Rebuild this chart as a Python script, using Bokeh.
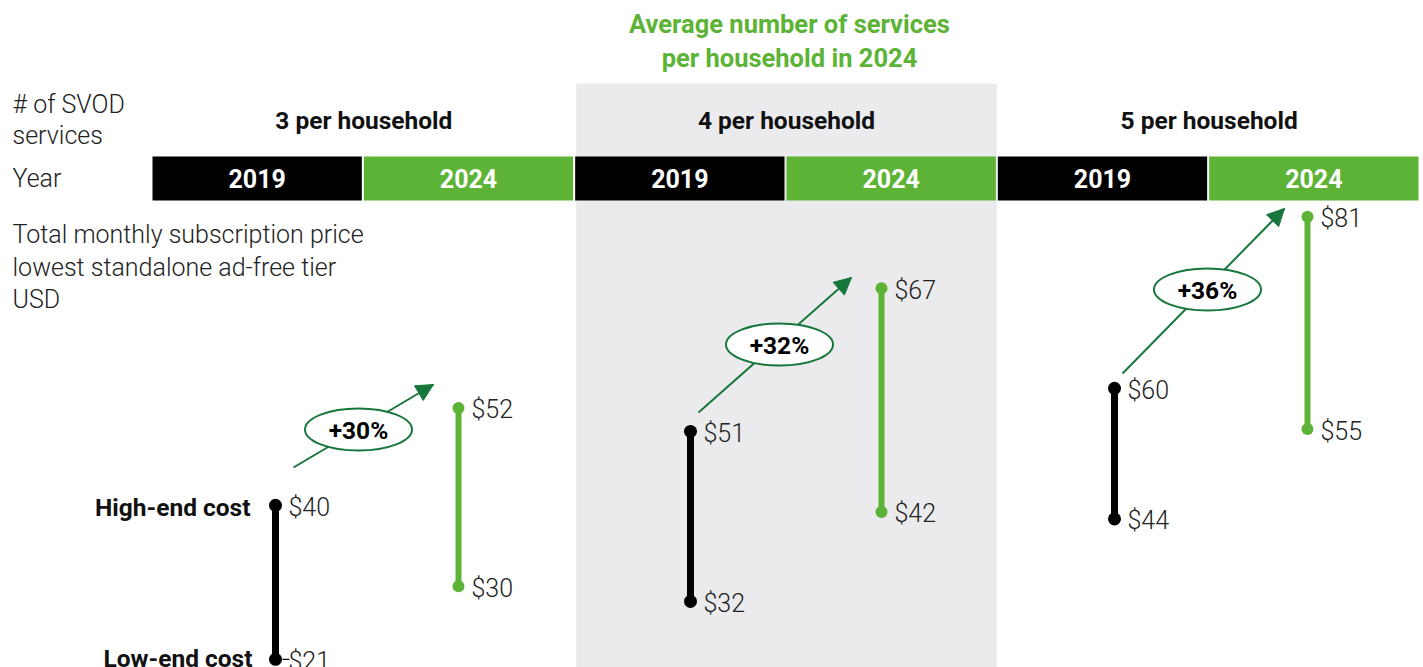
from bokeh.plotting import figure
from bokeh.models import Range1d, Arrow, NormalHead, ColumnDataSource
from bokeh.core.properties import value
from bokeh.embed import file_html
from bokeh.resources import INLINE

# ---- data -------------------------------------------------------------
groups = ["3 per household", "4 per household", "5 per household"]
years = ["2019", "2024"]
low_2019 = [21, 32, 44]
high_2019 = [40, 51, 60]
low_2024 = [30, 42, 55]
high_2024 = [52, 67, 81]
growth = ["+30%", "+32%", "+36%"]

# ---- layout / style ---------------------------------------------------
W, H = 1423, 667
GREEN = "#5cb335"
DARK_GREEN = "#17773a"
INK = "#111111"
PANEL = "#ebebed"
FONT = value("Roboto")
LIGHT = value("Roboto Light, Roboto")

# per-group dollar scale: pixel row of $0 and pixels per dollar
scale_zero = [829.1, 887.2, 877.8]
scale_ppd = [8.108, 8.947, 8.167]
x_2019 = [275, 690, 1114]
x_2024 = [458, 881, 1307]
arrow_tail = [(293, 467), (698, 412), (1122, 373)]
arrow_tip = [(433, 384), (851, 277), (1284, 208)]
badge_xy = [(358, 429), (779, 344), (1207, 289)]

BAR_LEFT, BAR_PITCH, BAR_GAP = 152, 211.33, 2
BAR_TOP, BAR_BOTTOM = 156, 200

p = figure(width=W, height=H, x_range=Range1d(0, W), y_range=Range1d(H, 0),
           output_backend="svg", toolbar_location=None, min_border=0,
           x_axis_location=None, y_axis_location=None)
p.grid.visible = False
p.outline_line_color = None
p.background_fill_color = "white"
p.border_fill_color = "white"

for i in range(3):
    a, b = scale_zero[i], scale_ppd[i]
    p.extra_y_ranges[f"g{i}"] = Range1d(start=(a - H) / b, end=a / b)

# highlighted middle group
p.quad(left=[BAR_LEFT + 2 * BAR_PITCH + 1], right=[BAR_LEFT + 4 * BAR_PITCH - 1],
       top=[83], bottom=[H], fill_color=PANEL, line_color=None)


def label(xs, ys, texts, size="25px", style="normal", align="center", color=INK, font=FONT):
    p.text(x=xs, y=ys, text=texts, text_font=font, text_font_size=size,
           text_font_style=style, text_align=align, text_baseline="middle",
           text_color=color)


# title
label([789, 789], [23, 57], ["Average number of services", "per household in 2024"],
      size="25.5px", style="bold", color=GREEN)

# left-hand row labels
label([12, 12, 12, 12, 12, 12], [104, 135, 178, 234, 267, 299],
      ["# of SVOD", "services", "Year", "Total monthly subscription price",
       "lowest standalone ad-free tier", "USD"],
      size="25px", align="left", color="#222222", font=LIGHT)

# group headers and year bars
lefts, rights, colors, bar_text, bar_x = [], [], [], [], []
for g in range(len(groups)):
    for k, yr in enumerate(years):
        i = 2 * g + k
        l = BAR_LEFT + i * BAR_PITCH
        lefts.append(l)
        rights.append(l + BAR_PITCH - BAR_GAP)
        colors.append("black" if yr == "2019" else GREEN)
        bar_text.append(yr)
        bar_x.append(l + (BAR_PITCH - BAR_GAP) / 2)
p.quad(left=lefts, right=rights, top=[BAR_TOP] * 6, bottom=[BAR_BOTTOM] * 6,
       fill_color=colors, line_color=None)
label(bar_x, [178] * 6, bar_text, size="25px", style="bold", color="white")

head_x = [BAR_LEFT + (2 * g + 1) * BAR_PITCH for g in range(3)]
label(head_x, [120] * 3, groups, size="24.5px", style="bold")

# row captions for the first range
label([250, 252], [507, 658], ["High-end cost", "Low-end cost"], size="24.5px",
      style="bold", align="right")

# growth arrows (shaft under the badge, head on top)
for g in range(3):
    (x0, y0), (x1, y1) = arrow_tail[g], arrow_tip[g]
    p.segment(x0=[x0], y0=[y0], x1=[x1], y1=[y1], line_color=DARK_GREEN, line_width=2)
    p.add_layout(Arrow(end=NormalHead(size=17, fill_color=DARK_GREEN, line_color=DARK_GREEN),
                       x_start=x0, y_start=y0, x_end=x1, y_end=y1,
                       line_alpha=0))
p.ellipse(x=[c[0] for c in badge_xy], y=[c[1] for c in badge_xy],
          width=[107] * 3, height=[42] * 3, fill_color="white",
          line_color=DARK_GREEN, line_width=2)
label([c[0] for c in badge_xy], [c[1] + 1 for c in badge_xy], growth,
      size="24.5px", style="bold", color="black")

# price ranges, one scale per group
for g in range(3):
    rng = f"g{g}"
    for xs, lo, hi, col, lw, sz in ((x_2019[g], low_2019[g], high_2019[g], "black", 7, 13),
                                    (x_2024[g], low_2024[g], high_2024[g], GREEN, 6, 12)):
        src = ColumnDataSource(dict(x=[xs, xs], y=[lo, hi],
                                    lab=[f"${lo}", f"${hi}"], lx=[xs + 13, xs + 13]))
        p.segment(x0=[xs], y0=[lo], x1=[xs], y1=[hi], line_color=col, line_width=lw,
                  y_range_name=rng)
        p.scatter(x="x", y="y", source=src, size=sz, fill_color=col, line_color=None,
                  y_range_name=rng)
        p.text(x="lx", y="y", text="lab", source=src, text_font=LIGHT,
               text_font_size="25px", text_align="left", text_baseline="middle",
               text_color="#222222", y_offset=2, y_range_name=rng)

# short leader to the lowest label
p.segment(x0=[x_2019[0] + 7], y0=[low_2019[0]], x1=[x_2019[0] + 14], y1=[low_2019[0]],
          line_color="black", line_width=1.2, y_range_name="g0")

open("out.html", "w").write(file_html(p, INLINE))
